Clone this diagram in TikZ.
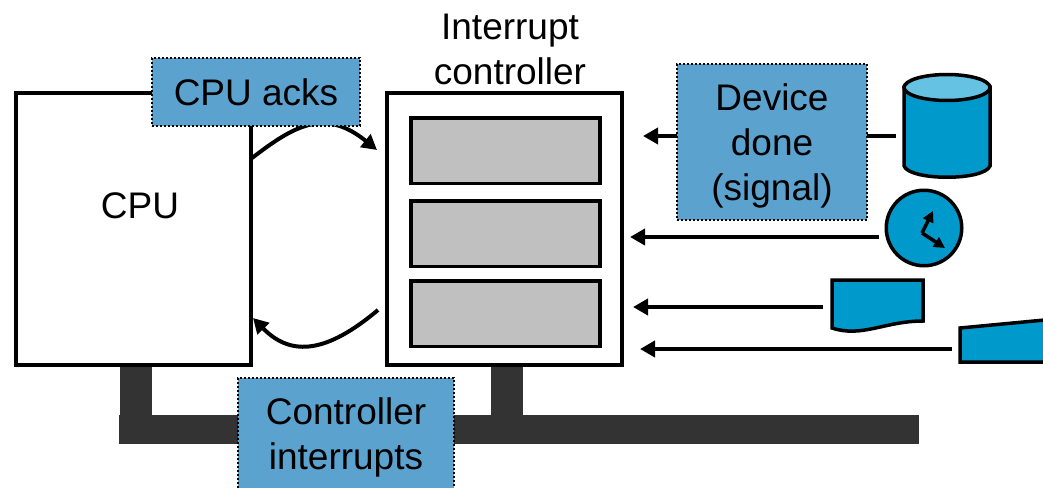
\documentclass[tikz,border=0pt]{standalone}
\usepackage{fontspec}
\setmainfont{Liberation Sans}
\usetikzlibrary{arrows.meta}
\definecolor{notefill}{HTML}{5BA3CE}
\definecolor{devfill}{HTML}{0099CC}
\definecolor{devtop}{HTML}{66C2E3}
\definecolor{slotfill}{HTML}{C0C0C0}
\definecolor{busfill}{HTML}{333333}
\tikzset{
  bigtext/.style={font=\fontsize{37}{45}\selectfont, align=center, text=black},
  mainbox/.style={draw=black, line width=4pt, fill=white, inner sep=0pt, outer sep=0pt, bigtext},
  slot/.style={draw=black, line width=3.5pt, fill=slotfill, minimum width=189pt, minimum height=65.5pt, inner sep=0pt, outer sep=0pt},
  note/.style={draw=black, fill=notefill, line width=2pt, dash pattern=on 2pt off 2pt, inner sep=0pt, outer sep=0pt, bigtext},
  busbar/.style={fill=busfill, draw=none, inner sep=0pt, outer sep=0pt},
  device/.style={draw=black, line width=3.5pt, fill=devfill, line join=miter},
  link/.style={draw=black, line width=4pt, -{Triangle[length=15pt,width=16pt]}},
  hand/.style={draw=black, line width=3.5pt, -{Triangle[length=11pt,width=11pt]}},
}
\begin{document}
\begin{tikzpicture}[x=1pt,y=-1pt]
\useasboundingbox (0,0) rectangle (1043,487);
\clip (0,0) rectangle (1043,487);
% bus
\node[busbar, minimum width=800pt, minimum height=29pt] (bus) at (519,429.5) {};
\node[busbar, minimum width=32pt, minimum height=50pt] (cpustub) at (136,392) {};
\node[busbar, minimum width=32pt, minimum height=50pt] (ctlstub) at (507,392) {};
% main boxes
\node[mainbox, minimum width=235pt, minimum height=272pt] (cpu) at (133.5,229) {};
\node[bigtext] (cpulabel) at (140,206) {CPU};
\node[mainbox, minimum width=235pt, minimum height=272pt] (ctl) at (504.5,229) {};
\node[slot] (slotA) at (505.5,150.5) {};
\node[slot] (slotB) at (505.5,233.5) {};
\node[slot] (slotC) at (505.5,313.5) {};
\node[bigtext] (ctllabel) at (510,49) {Interrupt\\controller};
% devices
\draw[device] (904,87) -- (904,166) .. controls (910,181) and (984,181) .. (990,166) -- (990,87) -- cycle;
\draw[device, fill=devtop] (947,87.5) ellipse[x radius=43,y radius=13];
\node[device, circle, minimum size=75.5pt, inner sep=0pt, outer sep=0pt] (clock) at (924,228) {};
\coordinate (hub) at (922,233);
\coordinate (h1) at (933,211);
\coordinate (h2) at (945,248);
\draw[hand] (hub) -- (h1);
\draw[hand] (hub) -- (h2);
\draw[device] (832,280) -- (923,280) -- (923,321) .. controls (885,321) and (862,338) .. (832,328) -- cycle;
\draw[device] (960,328) -- (1050,319.5) -- (1050,362) -- (960,362) -- cycle;
% connector ends
\coordinate (diskport) at (896,136);
\coordinate (ctlA) at (643,136);
\coordinate (clockport) at (879,237);
\coordinate (ctlB) at (630,237);
\coordinate (docport) at (823,307);
\coordinate (ctlC) at (633,307);
\coordinate (tapeport) at (952,349);
\coordinate (ctlD) at (640,349);
\coordinate (ackstart) at (252,158);
\coordinate (ackend) at (377,150);
\coordinate (intstart) at (378,310);
\coordinate (intend) at (253,318);
\draw[link] (diskport) -- (ctlA);
\draw[link] (clockport) -- (ctlB);
\draw[link] (docport) -- (ctlC);
\draw[link] (tapeport) -- (ctlD);
\draw[link] (ackstart) .. controls (295,125) and (325,108) .. (ackend);
\draw[link] (intstart) .. controls (328,352) and (292,358) .. (intend);
% notes
\node[note, minimum width=208pt, minimum height=68pt] (acks) at (256,92) {};
\node[bigtext] (ackslabel) at (256,92) {CPU acks};
\node[note, minimum width=190pt, minimum height=156pt] (done) at (772,142) {};
\node[bigtext] (donelabel) at (772,146) {Device\\done\\(signal)};
\node[note, minimum width=216pt, minimum height=124pt] (irq) at (346,440) {};
\node[bigtext] (irqlabel) at (346,437) {Controller\\interrupts};
\end{tikzpicture}
\end{document}
